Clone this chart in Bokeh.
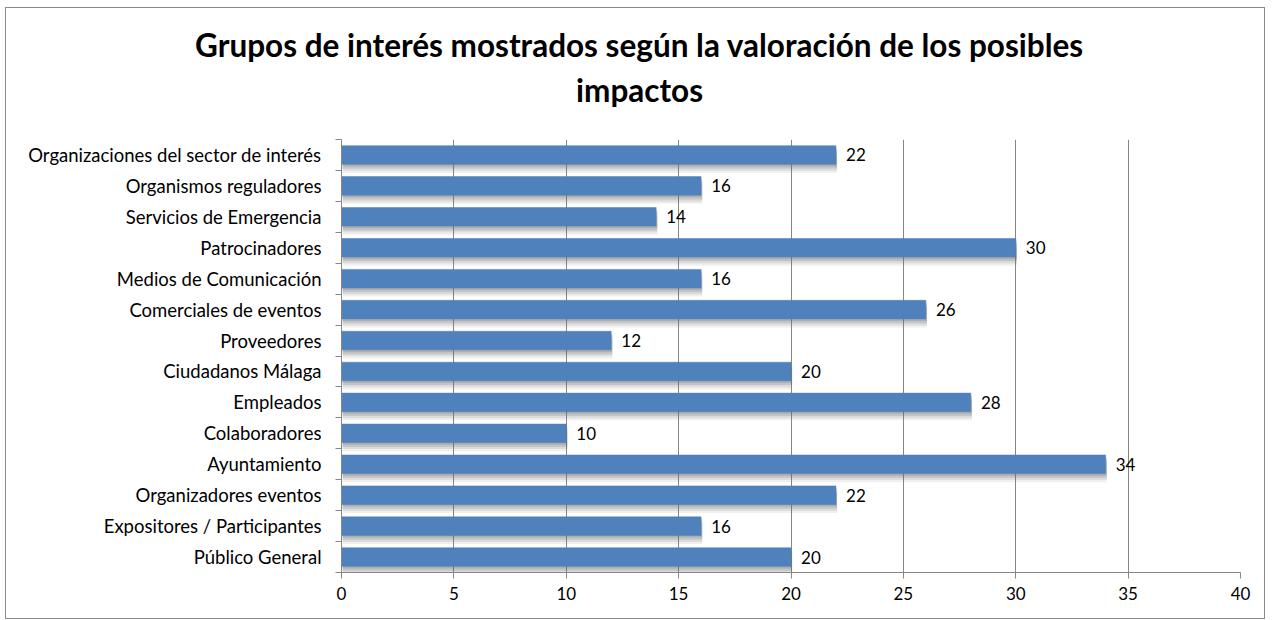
from bokeh.plotting import figure
from bokeh.models import FixedTicker, Range1d, Title, ColumnDataSource
from bokeh.embed import file_html
from bokeh.resources import INLINE

categories = [
    "Organizaciones del sector de interés",
    "Organismos reguladores",
    "Servicios de Emergencia",
    "Patrocinadores",
    "Medios de Comunicación",
    "Comerciales de eventos",
    "Proveedores",
    "Ciudadanos Málaga",
    "Empleados",
    "Colaboradores",
    "Ayuntamiento",
    "Organizadores eventos",
    "Expositores / Participantes",
    "Público General",
]
values = [22, 16, 14, 30, 16, 26, 12, 20, 28, 10, 34, 22, 16, 20]
x_ticks = [0, 5, 10, 15, 20, 25, 30, 35, 40]
title_lines = ["Grupos de interés mostrados según la valoración de los posibles",
               "impactos"]

n = len(categories)
ypos = [n - 0.5 - i for i in range(n)]
src = ColumnDataSource(dict(cat=categories, val=values, y=ypos,
                            half=[v / 2 for v in values],
                            lab=[str(v) for v in values],
                            lx=[v + 0.45 for v in values]))

FONT = "Lato"
p = figure(width=1260, height=612, output_backend="svg", toolbar_location=None,
           x_range=Range1d(0, 40), y_range=Range1d(0, n),
           min_border_left=335, min_border_right=26, min_border_bottom=48,
           min_border_top=0)
p.styles = {"border": "1px solid #8a8a8a", "margin-left": "5px", "margin-top": "7px"}

# title block (stacked upward from the frame: spacer, line 2, line 1, spacer)
p.add_layout(Title(text=" ", text_font_size="1px", standoff=26), "above")
p.add_layout(Title(text=title_lines[1], align="left", offset=234.5, standoff=4,
                   text_font=FONT, text_font_size="31.5px", text_font_style="bold",
                   text_color="black"), "above")
p.add_layout(Title(text=title_lines[0], align="left", offset=-146.5, standoff=6,
                   text_font=FONT, text_font_size="31.5px", text_font_style="bold",
                   text_color="black"), "above")
p.add_layout(Title(text=" ", text_font_size="1px", standoff=9), "above")

# soft shadow under the bars
for k, a in [(1, 0.24), (2, 0.2), (3, 0.15), (4, 0.10)]:
    p.rect(x=[v / 2 + 0.05 for v in values], y=[y - 0.07 * k for y in ypos],
           width=values, height=0.6, fill_color="#6a6a6a", fill_alpha=a,
           line_color=None)
p.rect(x="half", y="y", width="val", height=0.6, source=src,
       fill_color="#4F81BD", line_color="#4A7EBB", line_width=0.5)
p.text(x="lx", y="y", text="lab", source=src, text_baseline="middle",
       text_align="left", text_font_size="17px", text_color="black",
       text_font={"value": FONT})

p.xaxis.ticker = FixedTicker(ticks=x_ticks)
p.yaxis.ticker = FixedTicker(ticks=ypos, minor_ticks=list(range(n + 1)))
p.yaxis.major_label_overrides = {y: c for y, c in zip(ypos, categories)}
p.yaxis.major_tick_out = 0
p.yaxis.major_tick_in = 0
p.yaxis.minor_tick_out = 6
p.yaxis.minor_tick_in = 0
p.xaxis.major_tick_out = 6
p.xaxis.major_tick_in = 0
for ax in (p.xaxis, p.yaxis):
    ax.axis_line_color = "#868686"
    ax.major_tick_line_color = "#868686"
    ax.minor_tick_line_color = "#868686"
    ax.major_label_text_font = FONT
    ax.major_label_text_color = "black"
p.xaxis.minor_tick_line_color = None
p.yaxis.major_label_text_font_size = "18.5px"
p.xaxis.major_label_text_font_size = "17px"
p.yaxis.major_label_standoff = 14
p.xaxis.major_label_standoff = 8

p.xgrid.ticker = FixedTicker(ticks=x_ticks)
p.xgrid.grid_line_color = "#868686"
p.ygrid.grid_line_color = None
p.outline_line_color = None

open("out.html", "w").write(file_html(p, INLINE))
